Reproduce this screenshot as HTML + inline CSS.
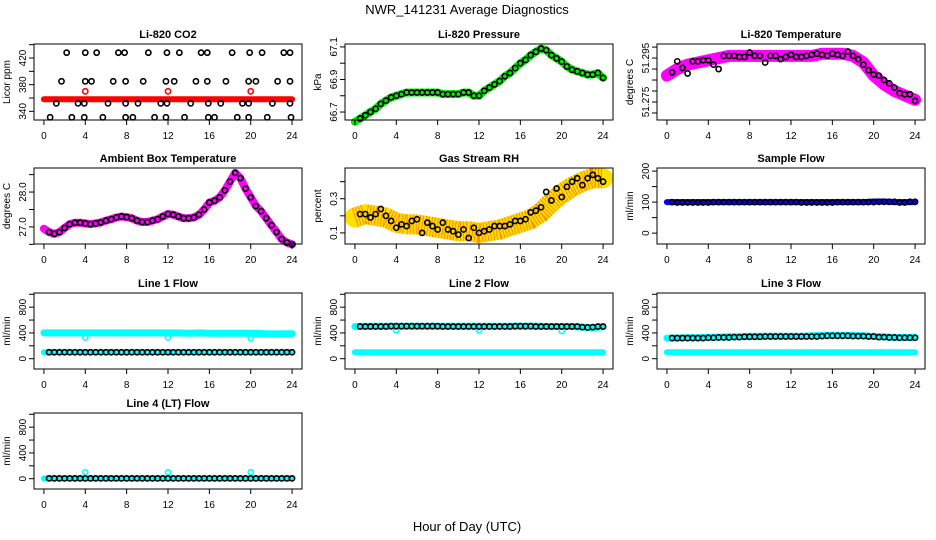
<!DOCTYPE html>
<html><head><meta charset="utf-8"><style>
html,body{margin:0;padding:0;background:#fff;}
svg{display:block;font-family:"Liberation Sans",Arial,sans-serif;}
</style></head><body>
<svg id="chart" width="936" height="540" viewBox="0 0 936 540" xmlns="http://www.w3.org/2000/svg">
<text x="467" y="14" text-anchor="middle" font-size="13">NWR_141231  Average Diagnostics</text>
<text x="467" y="531" text-anchor="middle" font-size="13">Hour of Day (UTC)</text>
</svg>
<script>
const xTicks = [0,4,8,12,16,20,24];
const co2Hours430 = [2.2,4.0,5.1,7.2,7.8,10.1,11.9,13.1,15.2,15.8,18.2,19.9,21.1,23.2,23.8];
const co2Hours390 = [1.7,4.0,4.6,6.7,7.9,9.6,11.8,12.6,14.7,15.8,17.6,19.8,20.5,22.6,23.8];
const co2Hours352 = [1.2,3.3,3.9,6.2,7.9,9.1,11.3,11.9,14.2,15.9,17.1,19.2,19.8,22.1,23.8];
const co2Hours331 = [0.6,2.7,3.9,5.7,7.9,8.6,10.7,11.8,13.6,15.9,16.5,18.7,19.8,21.6,23.9];
const co2Levels = [428,385,352,331];
const co2Red = 358;
const co2RedOutlierHours = [4,12,20];
const co2RedOutlier = 370;
const pressureVals = [66.66,66.68,66.70,66.72,66.75,66.77,66.79,66.80,66.81,66.82,66.82,66.82,66.82,66.82,66.82,66.82,66.81,66.81,66.81,66.81,66.82,66.82,66.80,66.80,66.83,66.85,66.87,66.89,66.92,66.94,66.97,67.00,67.02,67.05,67.07,67.09,67.08,67.05,67.03,67.01,66.98,66.96,66.95,66.94,66.93,66.93,66.94,66.91];
const tempVals = [51.2885,51.2935,51.2905,51.2880,51.2935,51.2935,51.2940,51.2940,51.2920,51.2900,51.2960,51.2960,51.2960,51.2955,51.2955,51.2975,51.2960,51.2960,51.2930,51.2960,51.2960,51.2945,51.2955,51.2965,51.2955,51.2955,51.2960,51.2965,51.2970,51.2965,51.2960,51.2970,51.2965,51.2960,51.2980,51.2960,51.2945,51.2920,51.2895,51.2875,51.2870,51.2850,51.2835,51.2815,51.2790,51.2785,51.2785,51.2755];
const tempBand = [51.287,51.290,51.292,51.293,51.294,51.295,51.296,51.296,51.296,51.296,51.296,51.296,51.296,51.296,51.296,51.297,51.297,51.297,51.296,51.293,51.287,51.283,51.280,51.278,51.276];
const ambientVals = [26.85,26.8,26.85,26.97,27.08,27.12,27.12,27.1,27.08,27.1,27.13,27.18,27.22,27.27,27.3,27.28,27.25,27.18,27.14,27.14,27.18,27.22,27.3,27.37,27.35,27.3,27.25,27.25,27.27,27.35,27.5,27.7,27.75,27.85,28.05,28.3,28.55,28.4,28.1,27.85,27.6,27.45,27.25,27.05,26.85,26.65,26.55,26.5];
const rhVals = [0.21,0.21,0.19,0.21,0.24,0.20,0.17,0.13,0.15,0.14,0.17,0.18,0.10,0.16,0.14,0.12,0.16,0.12,0.11,0.09,0.12,0.07,0.13,0.10,0.11,0.12,0.14,0.14,0.14,0.15,0.17,0.17,0.18,0.22,0.23,0.25,0.34,0.29,0.36,0.31,0.37,0.40,0.42,0.38,0.42,0.44,0.42,0.40];
const rhBand = [0.19,0.21,0.20,0.19,0.16,0.15,0.15,0.14,0.13,0.12,0.11,0.11,0.10,0.11,0.12,0.14,0.16,0.18,0.22,0.28,0.33,0.37,0.40,0.42,0.42];
const sampleBlue = [100,100,100,100,100,100,100,100,100,100,100,100,100,100,100,100,100,100,100,100,102,102,100,100,100];
const sampleBlack = [100,99,99,99,99,99,99,99,100,100,100,100,100,100,100,100,100,100,100,100,100,100,100,100,100,99,99,99,99,99,99,99,100,100,100,100,100,100,100,100,101,101,101,101,99,99,101,101];
const line1Cyan = [400,400,400,400,400,400,400,400,400,400,400,400,400,400,395,400,395,395,395,395,395,390,385,385,390];
const line1CyanLow = [100,100,100,100,100,100,100,100,100,100,100,100,100,100,100,100,100,100,100,100,100,100,100,100,100];
const line1Black = [100,100,100,100,100,100,100,100,100,100,100,100,100,100,100,100,100,100,100,100,100,100,100,100,100,100,100,100,100,100,100,100,100,100,100,100,100,100,100,100,100,100,100,100,100,100,100,100];
const line1OutHours = [4,12,20];
const line1Out = [330,330,320];
const line2Cyan = [500,505,505,505,505,505,505,505,505,505,505,505,505,505,505,505,505,505,505,500,500,500,490,480,495];
const line2CyanLow = [100,100,100,100,100,100,100,100,100,100,100,100,100,100,100,100,100,100,100,100,100,100,100,100,100];
const line2Black = [500,500,500,500,500,500,505,505,505,505,505,505,505,505,505,505,500,500,500,500,500,500,500,500,500,500,500,500,500,500,505,505,505,505,500,500,500,500,500,500,500,500,500,490,485,490,500,500];
const line2OutHours = [4,12,20];
const line2Out = [440,440,430];
const line3Cyan = [320,320,325,325,330,335,340,340,350,350,350,350,350,350,355,360,365,365,360,355,345,340,330,330,330];
const line3CyanLow = [100,100,100,100,100,100,100,100,100,100,100,100,100,100,100,100,100,100,100,100,100,100,100,100,100];
const line3Black = [320,320,320,320,320,320,320,325,325,330,330,330,335,335,340,340,340,340,345,345,345,345,345,345,345,345,345,345,345,350,355,355,355,355,355,350,350,350,345,345,335,335,330,330,325,325,325,325];
const line4Cyan = [5,5,5,5,5,5,5,5,5,5,5,5,5,5,5,5,5,5,5,5,5,5,5,5,5];
const line4Black = [5,5,5,5,5,5,5,5,5,5,5,5,5,5,5,5,5,5,5,5,5,5,5,5,5,5,5,5,5,5,5,5,5,5,5,5,5,5,5,5,5,5,5,5,5,5,5,5];
const line4OutHours = [4,12,20];
const line4Out = [100,100,100];

const svg = document.getElementById('chart');
const NS = 'http://www.w3.org/2000/svg';
const colLeft = [34, 345, 657];
const rowTop = [44, 168, 293, 413];
const BW = 268, BH = 76;
const XMIN = -0.96, XMAX = 24.96;
const halfHours = []; for (let i = 1; i <= 48; i++) halfHours.push(i * 0.5);
const hours = []; for (let i = 0; i <= 24; i++) hours.push(i);

function mk(tag, attrs, parent) {
  const e = document.createElementNS(NS, tag);
  for (const k in attrs) e.setAttribute(k, attrs[k]);
  (parent || svg).appendChild(e);
  return e;
}

function panel(col, row, name, title, ylab, ylim, yticks, ylabels) {
  const g = mk('g', {});
  
  
  const L = colLeft[col], T = rowTop[row];
  const sx = v => L + (v - XMIN) / (XMAX - XMIN) * BW;
  const sy = v => T + BH - (v - ylim[0]) / (ylim[1] - ylim[0]) * BH;
  const plot = mk('g', {}, g);
  
  
  const t = mk('text', {x: L + BW / 2, y: T - 6, 'text-anchor': 'middle', 'font-size': 11, 'font-weight': 'bold'}, g);
  t.textContent = title;
  
  
  const yl = mk('text', {x: 0, y: 0, 'text-anchor': 'middle', 'font-size': 10, transform: `translate(${L - 24},${T + BH / 2}) rotate(-90)`}, g);
  yl.textContent = ylab;
  
  
  const box = mk('rect', {x: L, y: T, width: BW, height: BH, fill: 'none', stroke: '#000', 'stroke-width': 1}, g);
  
  
  xTicks.forEach(v => {
    mk('line', {x1: sx(v), x2: sx(v), y1: T + BH, y2: T + BH + 5, stroke: '#000'}, g);
    const tl = mk('text', {x: sx(v), y: T + BH + 19, 'text-anchor': 'middle', 'font-size': 10}, g);
    tl.textContent = v;
    
    
  });
  yticks.forEach(v => {
    mk('line', {x1: L - 5, x2: L, y1: sy(v), y2: sy(v), stroke: '#000'}, g);
  });
  ylabels.forEach(v => {
    const tl = mk('text', {x: 0, y: 0, 'text-anchor': 'middle', 'font-size': 10, transform: `translate(${L - 8},${sy(v)}) rotate(-90)`}, g);
    tl.textContent = v;
    
    
  });
  return {g: plot, sx, sy};
}

function band(p, xs, ys, color, w, name, dash) {
  const d = xs.map((x, i) => (i ? 'L' : 'M') + p.sx(x).toFixed(1) + ',' + p.sy(ys[i]).toFixed(1)).join(' ');
  const a = {d, fill: 'none', stroke: color, 'stroke-width': w, 'stroke-linecap': 'round', 'stroke-linejoin': 'round'};
  if (dash) { a['stroke-dasharray'] = dash; a['stroke-linecap'] = 'butt'; }
  const e = mk('path', a, p.g);
  
  
}
function pts(p, xs, ys, color, name, r) {
  xs.forEach((x, i) => {
    const c = mk('circle', {cx: p.sx(x), cy: p.sy(ys[i]), r: r || 2.6, fill: 'none', stroke: color, 'stroke-width': 1.6}, p.g);
    
    
  });
}
function constPts(p, xs, v, color, name) { pts(p, xs, xs.map(() => v), color, name); }

// CO2
let p = panel(0, 0, 'co2', 'Li-820 CO2', 'Licor ppm', [327, 441], [340,360,380,400,420,440], [340,380,420]);
band(p, [0, 24], [co2Red, co2Red], '#ff0000', 6, 'co2-red-band');
pts(p, co2RedOutlierHours, co2RedOutlierHours.map(() => co2RedOutlier), '#ff0000', 'co2-red-outlier');
constPts(p, co2Hours430, co2Levels[0], '#000', 'co2-point');
constPts(p, co2Hours390, co2Levels[1], '#000', 'co2-point');
constPts(p, co2Hours352, co2Levels[2], '#000', 'co2-point');
constPts(p, co2Hours331, co2Levels[3], '#000', 'co2-point');

// Pressure
p = panel(1, 0, 'pressure', 'Li-820 Pressure', 'kPa', [66.651, 67.118], [66.7,66.8,66.9,67.0,67.1], ['66.7','66.9','67.1']);
band(p, [0].concat(halfHours), [66.64].concat(pressureVals), '#00ee00', 8, 'pressure-band');
pts(p, halfHours, pressureVals, '#000', 'pressure-point');

// Temperature
p = panel(2, 0, 'li820-temp', 'Li-820 Temperature', 'degrees C', [51.2668, 51.3014], [51.27,51.275,51.28,51.285,51.29,51.295,51.30], ['51.275','51.295']);
band(p, hours, tempBand, '#ff00ff', 12, 'temperature-band');
pts(p, halfHours, tempVals, '#000', 'temperature-point');

// Ambient
p = panel(0, 1, 'ambient', 'Ambient Box Temperature', 'degrees C', [26.51, 28.69], [26.5,27.0,27.5,28.0,28.5], ['27.0','28.0']);
band(p, [0].concat(halfHours), [26.95].concat(ambientVals), '#ff00ff', 8, 'ambient-band');
pts(p, halfHours, ambientVals, '#000', 'ambient-point');

// RH
p = panel(1, 1, 'rh', 'Gas Stream RH', 'percent', [0.035, 0.48], [0.1,0.2,0.3,0.4], ['0.1','0.3']);
band(p, hours, rhBand, '#ffe000', 20, 'rh-band');
band(p, hours, rhBand, '#ff8c00', 20, 'rh-band-speckle', '1 2');
pts(p, halfHours, rhVals, '#000', 'rh-point');

// Sample flow
p = panel(2, 1, 'sample-flow', 'Sample Flow', 'ml/min', [-35, 210], [0,50,100,150,200], [0,100,200]);
band(p, hours, sampleBlue, '#0000ff', 6, 'sample-flow-band');
pts(p, halfHours, sampleBlack, '#000', 'sample-flow-point');

const flowLim = [-160, 1020], flowTicks = [0,200,400,600,800,1000], flowLabels = [0,400,800];
// Line 1
p = panel(0, 2, 'line1', 'Line 1 Flow', 'ml/min', flowLim, flowTicks, flowLabels);
band(p, hours, line1Cyan, '#00ffff', 7, 'line1-cyan-band');
band(p, hours, line1CyanLow, '#00ffff', 6, 'line1-cyan-low-band');
pts(p, line1OutHours, line1Out, '#00ffff', 'line1-outlier');
pts(p, halfHours, line1Black, '#000', 'line1-point');
// Line 2
p = panel(1, 2, 'line2', 'Line 2 Flow', 'ml/min', flowLim, flowTicks, flowLabels);
band(p, hours, line2Cyan, '#00ffff', 7, 'line2-cyan-band');
band(p, hours, line2CyanLow, '#00ffff', 6, 'line2-cyan-low-band');
pts(p, line2OutHours, line2Out, '#00ffff', 'line2-outlier');
pts(p, halfHours, line2Black, '#000', 'line2-point');
// Line 3
p = panel(2, 2, 'line3', 'Line 3 Flow', 'ml/min', flowLim, flowTicks, flowLabels);
band(p, hours, line3Cyan, '#00ffff', 7, 'line3-cyan-band');
band(p, hours, line3CyanLow, '#00ffff', 6, 'line3-cyan-low-band');
pts(p, halfHours, line3Black, '#000', 'line3-point');
// Line 4
p = panel(0, 3, 'line4', 'Line 4 (LT) Flow', 'ml/min', flowLim, flowTicks, flowLabels);
band(p, hours, line4Cyan, '#00ffff', 6, 'line4-cyan-band');
pts(p, line4OutHours, line4Out, '#00ffff', 'line4-outlier');
pts(p, halfHours, line4Black, '#000', 'line4-point');
</script>
</body></html>
